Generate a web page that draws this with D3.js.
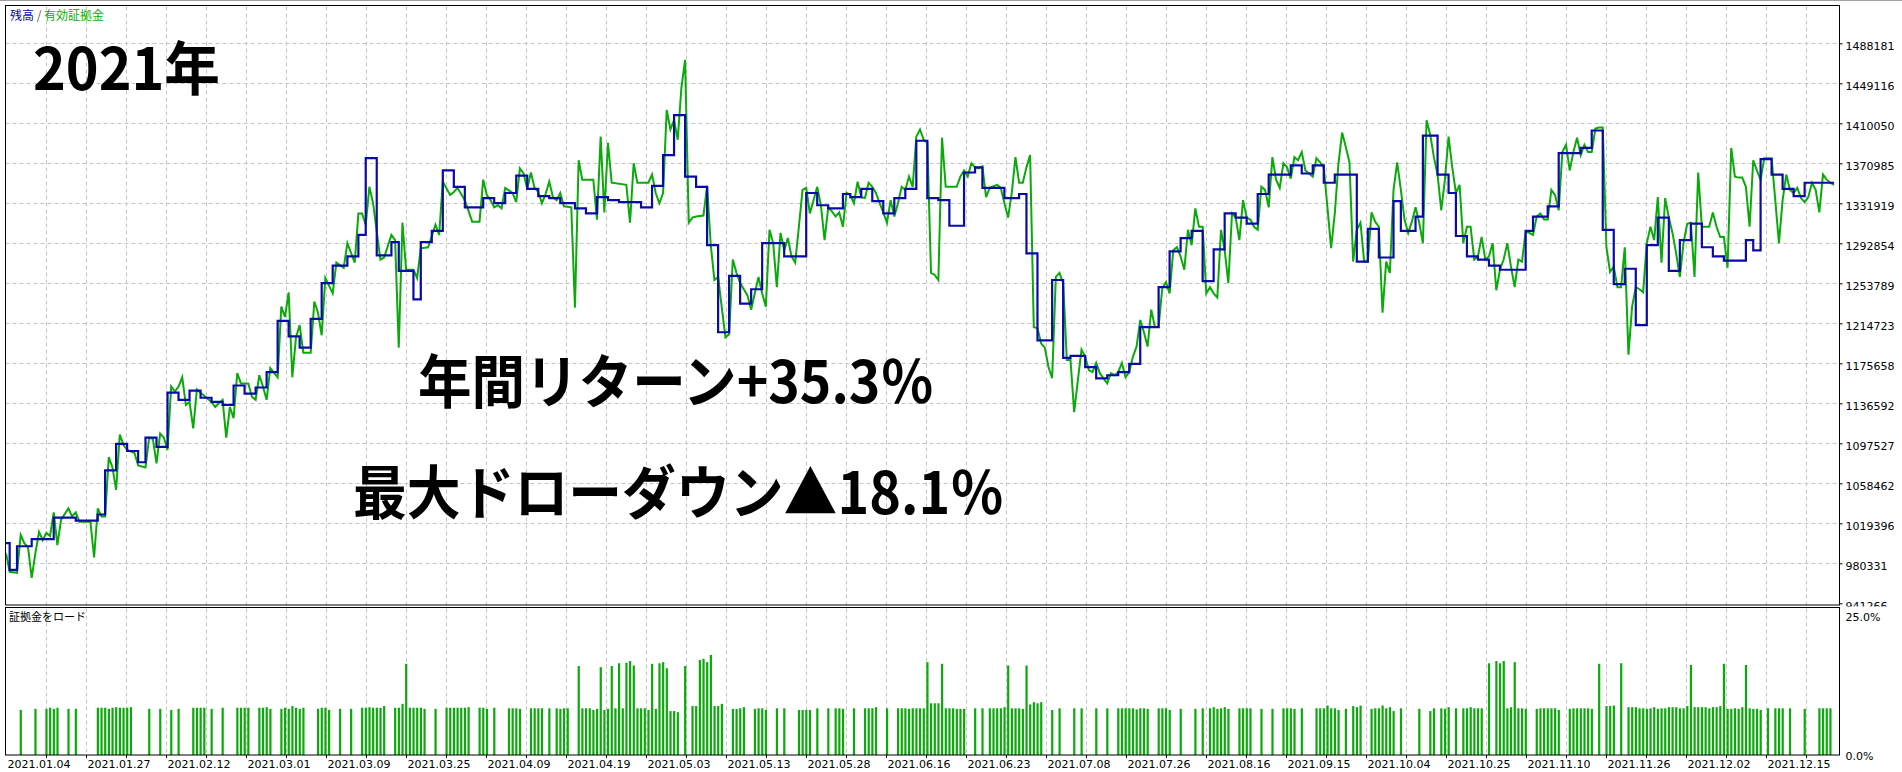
<!DOCTYPE html>
<html>
<head>
<meta charset="utf-8">
<script src="https://cdn.jsdelivr.net/npm/d3@7"></script>
<style>
  body { margin: 0; background: #fff; }
  text { font-family: "DejaVu Sans", sans-serif; }
</style>
</head>
<body>
<div id="tester-graph"></div>
<script>
(function() {
  var width = 1902, height = 772;

  // ---- data ----
  // y axis labels of the balance/equity pane (yen)
  var yTicks = [941266, 980331, 1019396, 1058462, 1097527, 1136592, 1175658, 1214723,
                1253789, 1292854, 1331919, 1370985, 1410050, 1449116, 1488181];

  var dateLabels = ["2021.01.04","2021.01.27","2021.02.12","2021.03.01","2021.03.09","2021.03.25",
    "2021.04.09","2021.04.19","2021.05.03","2021.05.13","2021.05.28","2021.06.16","2021.06.23",
    "2021.07.08","2021.07.26","2021.08.16","2021.09.15","2021.10.04","2021.10.25","2021.11.10",
    "2021.11.26","2021.12.02","2021.12.15"];

  var loadTicks = [0, 25];
  var dealCount = 498;

  // balance: [deal #, thousand yen] - value holds until next entry
  var balanceK = [[0,1000],[1,974],[3,997],[7,1004],[13,1025],[19,1022],[25,1028],[27,1071],[30,1097],[33,1090],
    [36,1079],[38,1103],[41,1094],[44,1147],[47,1140],[50,1149],[53,1142],[56,1138],[59,1135],[62,1154],
    [65,1146],[68,1152],[71,1167],[74,1217],[77,1202],[80,1191],[83,1219],[86,1254],[89,1271],[93,1280],
    [96,1301],[98,1376],[101,1281],[105,1294],[107,1266],[111,1238],[113,1294],[116,1305],[119,1364],[122,1348],
    [125,1328],[130,1337],[133,1332],[136,1342],[139,1359],[142,1346],[145,1339],[148,1337],[151,1332],[155,1327],
    [158,1322],[161,1338],[164,1335],[167,1333],[173,1328],[176,1349],[179,1379],[182,1418],[185,1358],[188,1348],
    [191,1291],[194,1206],[197,1261],[200,1234],[203,1248],[206,1293],[212,1280],[218,1342],[221,1330],[224,1327],
    [228,1341],[230,1338],[233,1346],[236,1334],[239,1322],[242,1337],[245,1346],[248,1393],[251,1337],[254,1335],
    [257,1310],[261,1362],[264,1367],[266,1347],[272,1337],[276,1341],[278,1283],[281,1198],[285,1257],[288,1181],
    [290,1183],[294,1172],[297,1161],[300,1164],[303,1167],[306,1175],[309,1211],[314,1250],[317,1285],[320,1298],
    [323,1305],[326,1256],[329,1287],[332,1322],[335,1318],[338,1312],[341,1341],[344,1360],[350,1369],[353,1361],
    [356,1369],[359,1352],[362,1360],[368,1275],[371,1307],[374,1279],[378,1334],[380,1305],[384,1319],[386,1398],
    [390,1360],[393,1342],[395,1300],[398,1280],[401,1277],[404,1271],[407,1267],[414,1305],[416,1319],[420,1329],
    [423,1381],[429,1386],[432,1403],[435,1306],[438,1253],[441,1268],[444,1213],[447,1291],[450,1318],[453,1266],
    [456,1296],[459,1312],[462,1289],[465,1280],[468,1276],[474,1296],[476,1286],[478,1375],[481,1360],[484,1346],
    [487,1339],[490,1352],[498,1352]];

  // equity: [deal #, thousand yen]
  var equityK = [[0,990],[1,972],[3,971],[4,1008],[5,1000],[6,996],[7,966],[8,990],[9,1011],[10,1003],[11,1010],
    [12,1007],[13,1030],[14,998],[15,1023],[17,1034],[18,1026],[19,1030],[20,1021],[23,1021],[24,986],[25,1034],
    [26,1026],[27,1026],[28,1084],[29,1074],[30,1052],[31,1106],[32,1096],[33,1091],[35,1088],[36,1076],[38,1074],
    [39,1103],[40,1102],[41,1078],[42,1107],[43,1103],[44,1091],[45,1153],[46,1148],[47,1153],[48,1162],[49,1135],
    [50,1138],[51,1112],[52,1150],[53,1147],[54,1144],[56,1138],[57,1133],[59,1140],[60,1103],[61,1133],[62,1122],
    [63,1166],[64,1156],[66,1156],[67,1143],[68,1140],[69,1164],[70,1153],[71,1140],[72,1171],[74,1162],[75,1231],
    [76,1221],[77,1245],[78,1162],[79,1201],[80,1213],[81,1186],[83,1186],[84,1236],[85,1225],[86,1203],[87,1259],
    [89,1244],[90,1274],[92,1269],[93,1293],[95,1274],[96,1322],[97,1322],[98,1311],[99,1348],[100,1332],[102,1277],
    [103,1279],[105,1301],[106,1296],[107,1191],[108,1313],[109,1267],[111,1267],[112,1259],[113,1288],[115,1289],
    [117,1311],[118,1301],[119,1353],[121,1340],[122,1343],[123,1347],[125,1335],[127,1314],[129,1314],[130,1355],
    [131,1340],[132,1335],[133,1328],[134,1330],[135,1327],[136,1347],[138,1342],[139,1333],[140,1366],[141,1361],
    [142,1346],[143,1362],[144,1347],[145,1343],[146,1332],[147,1341],[148,1353],[149,1338],[150,1335],[151,1342],
    [152,1329],[154,1328],[155,1230],[156,1374],[157,1355],[160,1355],[161,1316],[162,1397],[163,1323],[164,1391],
    [165,1352],[169,1350],[170,1313],[171,1371],[172,1352],[175,1352],[176,1360],[177,1342],[178,1332],[179,1342],
    [180,1423],[181,1404],[182,1413],[183,1394],[184,1445],[185,1472],[186,1313],[187,1318],[188,1319],[190,1320],
    [191,1349],[192,1291],[193,1257],[194,1260],[195,1230],[196,1201],[197,1204],[198,1277],[199,1264],[200,1254],
    [202,1242],[203,1228],[204,1244],[205,1260],[206,1244],[207,1231],[208,1306],[209,1293],[210,1250],[211,1303],
    [212,1286],[213,1298],[214,1280],[215,1274],[216,1309],[217,1345],[218,1347],[219,1322],[221,1348],[222,1330],
    [223,1296],[224,1328],[225,1324],[226,1319],[227,1323],[228,1309],[229,1342],[230,1340],[231,1332],[232,1353],
    [233,1338],[234,1337],[235,1352],[236,1348],[237,1342],[238,1332],[239,1323],[240,1313],[241,1335],[242,1319],
    [243,1332],[244,1348],[245,1345],[246,1358],[247,1348],[248,1397],[249,1404],[250,1394],[251,1391],[252,1264],
    [253,1262],[254,1257],[255,1396],[256,1348],[259,1348],[260,1358],[261,1364],[262,1358],[263,1371],[264,1367],
    [265,1366],[266,1368],[267,1338],[268,1347],[270,1350],[271,1347],[272,1332],[273,1318],[274,1342],[275,1377],
    [276,1352],[277,1352],[278,1367],[279,1379],[280,1211],[281,1210],[282,1195],[283,1191],[284,1172],[285,1161],
    [286,1260],[287,1264],[288,1254],[289,1179],[290,1179],[291,1128],[292,1159],[293,1189],[294,1182],[295,1169],
    [296,1167],[297,1176],[298,1166],[299,1161],[300,1156],[301,1166],[302,1164],[303,1167],[304,1176],[305,1162],
    [306,1167],[307,1182],[308,1192],[309,1218],[310,1206],[311,1192],[312,1228],[313,1211],[314,1211],[315,1249],
    [316,1255],[317,1244],[318,1286],[319,1289],[320,1280],[321,1267],[322,1306],[323,1291],[324,1327],[325,1309],
    [326,1309],[327,1244],[328,1250],[329,1244],[330,1240],[331,1306],[332,1286],[333,1254],[334,1322],[335,1318],
    [336,1296],[337,1335],[338,1318],[339,1316],[340,1309],[341,1306],[342,1348],[343,1345],[344,1328],[345,1377],
    [346,1355],[347,1347],[348,1371],[349,1367],[350,1356],[351,1377],[352,1374],[353,1382],[354,1364],[355,1361],
    [356,1358],[357,1376],[358,1372],[359,1367],[360,1328],[361,1288],[362,1322],[363,1371],[364,1401],[365,1387],
    [366,1372],[367,1275],[368,1306],[369,1313],[370,1275],[371,1275],[372,1323],[373,1314],[374,1309],[375,1225],
    [376,1275],[377,1264],[378,1345],[379,1372],[380,1345],[381,1316],[382,1303],[383,1314],[384,1328],[385,1313],
    [386,1293],[387,1413],[388,1399],[389,1377],[390,1360],[391,1325],[392,1355],[393,1397],[394,1367],[395,1342],
    [396,1350],[397,1293],[398,1309],[399,1309],[400,1277],[401,1280],[402,1299],[403,1277],[404,1280],[405,1293],
    [406,1247],[407,1267],[408,1277],[409,1293],[410,1270],[411,1250],[412,1277],[413,1275],[414,1304],[415,1303],
    [416,1301],[417,1319],[418,1322],[419,1316],[420,1316],[421,1345],[422,1340],[423,1325],[424,1382],[425,1389],
    [426,1364],[427,1382],[428,1396],[429,1379],[430,1389],[431,1382],[432,1382],[433,1405],[434,1406],[435,1406],
    [436,1289],[437,1265],[438,1270],[439,1250],[440,1250],[441,1289],[442,1184],[443,1231],[444,1250],[445,1248],
    [446,1245],[447,1293],[448,1309],[449,1296],[450,1338],[451,1274],[452,1337],[453,1318],[454,1303],[455,1283],
    [456,1260],[457,1293],[458,1312],[459,1313],[460,1260],[461,1362],[462,1309],[464,1309],[465,1323],[466,1309],
    [467,1299],[468,1299],[469,1269],[470,1386],[471,1358],[472,1357],[473,1357],[474,1348],[475,1309],[476,1374],
    [477,1364],[478,1355],[479,1376],[481,1376],[482,1335],[483,1293],[484,1335],[485,1360],[486,1345],[487,1342],
    [488,1347],[489,1337],[490,1333],[491,1338],[492,1352],[493,1345],[494,1323],[495,1360],[496,1355],[497,1352],
    [498,1350]];

  // deposit load: [deal #, percent]
  var loadBars = [[4,8.1],[8,8.3],[11,8.3],[12,8.5],[13,8.3],[14,8.5],[17,8.3],[19,8.3],[25,8.5],[26,8.5],[27,8.5],
    [28,8.3],[29,8.5],[30,8.6],[31,8.5],[32,8.5],[33,8.5],[34,8.6],[39,8.3],[42,8.3],[45,8.1],[47,8.3],[51,8.5],
    [52,8.5],[53,8.5],[54,8.5],[56,8.3],[59,8.5],[63,8.5],[64,8.5],[65,8.5],[66,8.5],[69,8.5],[70,8.5],[71,8.6],
    [72,8.3],[75,8.3],[76,8.5],[77,8.3],[78,8.8],[79,8.5],[80,8.3],[81,8.5],[85,8.3],[86,8.5],[87,8.5],[88,8.1],
    [91,8.3],[94,8.3],[97,8.5],[98,8.5],[99,8.6],[100,8.5],[101,8.5],[102,8.5],[103,8.8],[106,8.5],[107,8.5],
    [108,9.2],[109,16.4],[110,8.5],[111,8.5],[112,8.5],[113,8.5],[114,8.3],[117,8.3],[120,8.5],[121,8.5],[122,8.5],
    [123,8.5],[124,8.5],[125,8.5],[126,8.6],[129,8.5],[130,8.5],[131,8.3],[133,8.5],
    [137,8.4],[138,8.4],[139,8.4],[140,8.3],[143,8.4],[144,8.4],[145,8.4],[146,8.4],[148,8.4],[150,8.4],[151,8.3],
    [152,8.4],[153,8.4],[156,16.0],[157,8.4],[158,8.4],[159,8.4],[160,8.1],[161,8.3],[162,15.8],[163,8.1],[164,8.3],
    [165,16.0],[166,8.4],[167,16.5],[168,8.4],[169,16.6],[170,16.9],[171,16.1],[172,8.4],[173,8.4],[174,8.4],
    [175,8.1],[176,16.4],[177,8.3],[178,16.5],[179,16.7],[180,15.6],[181,7.9],[182,7.9],[183,7.7],[185,16.0],
    [187,8.8],[188,8.8],[189,17.1],[190,17.3],[191,16.7],[192,18.0],[193,8.8],[194,8.8],[195,9.2],[198,8.3],
    [199,8.3],[200,8.4],[201,8.6],[204,8.3],[205,8.4],[206,8.4],[207,8.1],[210,8.4],[212,8.4],[216,8.1],[217,8.1],
    [218,8.1],[219,8.1],[221,8.4],[224,8.4],[226,8.4],[227,8.4],[228,8.3],[231,8.4],[234,8.4],[235,8.4],[236,8.4],
    [237,8.6],[240,8.4],[243,8.4],[244,8.4],[245,8.4],[246,8.3],[247,8.4],[248,8.4],[249,8.4],[250,8.4],[251,16.7],
    [252,9.3],[253,9.3],[254,9.3],[255,16.4],[256,8.4],[257,8.4],[258,8.4],[259,8.3],[260,8.3],[261,8.3],[264,8.4],
    [266,8.4],[268,8.4],[269,8.4],[270,8.4],[271,8.4],[272,8.6],[273,16.1],[274,8.4],[275,8.4],[276,8.4],[277,8.3],
    [278,16.1],[279,9.1],[280,9.5],[281,9.3],[282,9.5],[285,8.1],[287,8.4],[291,8.4],[293,8.4],[297,8.4],[300,8.4],
    [303,8.4],[304,8.4],[305,8.4],[306,8.4],[307,8.4],[308,8.2],[309,8.4],[310,8.4],[311,8.3],[314,8.4],[315,8.4],
    [316,8.4],[317,8.1],[320,8.3],[324,8.3],
    [326,8.4],[328,8.4],[329,8.6],[330,8.3],[331,8.4],[332,8.6],[333,8.3],[336,8.4],[337,8.4],[338,8.4],[339,8.4],
    [342,8.3],[345,8.3],[348,8.4],[349,8.4],[350,8.4],[351,8.3],[353,8.4],[357,8.4],[358,8.4],[359,8.4],[360,8.9],
    [361,8.4],[362,8.4],[363,8.1],[365,8.3],[367,8.8],[368,8.6],[369,8.9],[372,8.3],[373,8.4],[374,8.4],[375,8.9],
    [376,8.4],[377,8.6],[378,7.9],[380,8.4],[385,8.3],[388,7.9],[389,8.4],[391,8.4],[392,8.3],[393,8.6],[395,8.4],
    [397,8.4],[398,8.4],[399,8.6],[400,8.4],[401,8.4],[402,8.4],[404,16.5],[406,16.9],[407,16.5],[408,16.9],
    [409,8.4],[410,8.6],[411,16.7],[412,8.4],[413,8.4],[414,8.3],[417,8.3],[418,8.4],[419,8.4],[420,8.4],[421,8.4],
    [422,8.4],[423,8.1],[426,8.3],[427,8.4],[428,8.4],[429,8.4],[430,8.4],[431,8.4],[432,8.3],[434,16.4],[436,8.8],
    [437,8.8],[438,8.9],[440,16.5],[442,8.6],[443,8.6],[444,8.6],[445,8.4],[446,8.4],[447,8.3],[448,8.4],[449,8.6],
    [450,8.3],[451,8.4],[452,8.4],[453,8.6],[454,8.6],[455,8.6],[456,8.4],[457,8.4],[458,8.8],[459,16.2],[460,8.6],
    [461,8.6],[462,8.6],[463,8.6],[464,8.4],[465,8.6],[466,8.6],[467,8.8],[468,16.4],[469,8.3],[470,8.3],[471,8.4],
    [472,8.3],[473,8.6],[474,16.2],[475,8.4],[476,8.3],[477,8.3],[478,8.1],[480,8.4],[482,8.4],[483,8.4],[484,8.4],
    [486,8.4],[490,8.3],[494,8.4],[495,8.4],[496,8.4],[497,8.4]];

  var balance = balanceK.map(function(d) { return [d[0], d[1] * 1000] });
  var equity = equityK.map(function(d) { return [d[0], d[1] * 1000] });

  // ---- layout ----
  var pane = { left: 5.5, right: 1839.5, top: 5.5, bottom: 605 },
      loadPane = { top: 607.5, bottom: 755 };

  var blue = "#0a0aa8", green = "#0aaa0a";

  var svg = d3.select("#tester-graph")
    .append("svg")
    .attr("width", width)
    .attr("height", height)
    .style("display", "block");

  svg.append("rect").attr("width", width).attr("height", height).attr("fill", "#fff");
  svg.append("line").attr("x1", 0).attr("x2", width).attr("y1", 0.5).attr("y2", 0.5)
    .attr("stroke", "#a0a0a0");

  var xScale = d3.scaleLinear().domain([0, dealCount]).range([6, 1834]);
  var yScale = d3.scaleLinear().domain([yTicks[0], yTicks[yTicks.length - 1]]).range([603.3, 43.3]);
  var loadScale = d3.scaleLinear().domain(loadTicks).range([755, 616]);
  var dateScale = d3.scalePoint().domain(dateLabels).range([38.5, 1798.5]);
  // vertical grid every 40px
  var gridScale = d3.scaleLinear().domain([0, 45]).range([6, 1806]);

  var defs = svg.append("defs");
  defs.append("clipPath").attr("id", "clip-main").append("rect")
    .attr("x", pane.left).attr("y", pane.top)
    .attr("width", pane.right - pane.left).attr("height", pane.bottom - pane.top);
  defs.append("clipPath").attr("id", "clip-axis").append("rect")
    .attr("x", pane.right).attr("y", 0).attr("width", 70).attr("height", 606.5);

  // grid
  var grid = svg.append("g").attr("class", "grid")
    .attr("stroke", "#c4c4c4").attr("stroke-dasharray", "4,3").attr("fill", "none");
  grid.selectAll("line.v")
    .data(d3.range(1, 46))
    .enter().append("line")
    .attr("class", "v")
    .attr("x1", function(d) { return Math.round(gridScale(d)) + 0.5 })
    .attr("x2", function(d) { return Math.round(gridScale(d)) + 0.5 })
    .attr("y1", pane.top + 1).attr("y2", loadPane.bottom);
  grid.selectAll("line.h")
    .data(yTicks.slice(1))
    .enter().append("line")
    .attr("class", "h")
    .attr("x1", pane.left).attr("x2", pane.right)
    .attr("y1", function(d) { return Math.round(yScale(d)) + 0.5 })
    .attr("y2", function(d) { return Math.round(yScale(d)) + 0.5 });

  // white gap between the panes
  svg.append("rect").attr("x", 0).attr("y", 605.5).attr("width", pane.right).attr("height", 2)
    .attr("fill", "#fff");

  // equity + balance
  var plot = svg.append("g").attr("clip-path", "url(#clip-main)");
  var line = d3.line()
    .x(function(d) { return xScale(d[0]) })
    .y(function(d) { return yScale(d[1]) });

  plot.append("path")
    .datum(equity)
    .attr("d", line)
    .attr("fill", "none")
    .attr("stroke", green)
    .attr("stroke-width", 2)
    .attr("stroke-linejoin", "miter");

  plot.append("path")
    .datum(balance)
    .attr("d", line.curve(d3.curveStepAfter))
    .attr("fill", "none")
    .attr("stroke", blue)
    .attr("stroke-width", 2.2);

  // deposit load bars
  svg.append("g").selectAll("rect")
    .data(loadBars)
    .enter().append("rect")
    .attr("x", function(d) { return xScale(d[0]) - 1 })
    .attr("width", 2.2)
    .attr("y", function(d) { return loadScale(d[1]) })
    .attr("height", function(d) { return loadScale(0) - loadScale(d[1]) })
    .attr("fill", green);

  // frames
  svg.append("rect")
    .attr("x", pane.left).attr("y", pane.top)
    .attr("width", pane.right - pane.left).attr("height", pane.bottom - pane.top)
    .attr("fill", "none").attr("stroke", "#000");
  svg.append("rect")
    .attr("x", pane.left).attr("y", loadPane.top)
    .attr("width", pane.right - pane.left).attr("height", loadPane.bottom - loadPane.top)
    .attr("fill", "none").attr("stroke", "#000");

  // value axis (clipped so the lowest label is cut by the load pane, as in the terminal)
  var yAxis = d3.axisRight(yScale).tickValues(yTicks).tickSize(3).tickPadding(3)
    .tickFormat(d3.format("d"));
  var yAxisG = svg.append("g")
    .attr("clip-path", "url(#clip-axis)")
    .append("g")
    .attr("class", "axis y-axis")
    .attr("transform", "translate(" + pane.right + ",0)")
    .style("font-family", "DejaVu Sans")
    .style("font-size", "11px")
    .call(yAxis);
  yAxisG.select(".domain").remove();
  yAxisG.selectAll("text").attr("dy", "0.55em").attr("fill", "#000");
  yAxisG.selectAll("line").attr("stroke", "#000");

  // load axis
  var loadAxis = d3.axisRight(loadScale).tickValues(loadTicks).tickSize(0).tickPadding(6)
    .tickFormat(function(d) { return d.toFixed(1) + "%" });
  var loadAxisG = svg.append("g")
    .attr("class", "axis load-axis")
    .attr("transform", "translate(" + pane.right + ",0)")
    .style("font-family", "DejaVu Sans")
    .style("font-size", "11px")
    .call(loadAxis);
  loadAxisG.select(".domain").remove();
  loadAxisG.selectAll("text").attr("dy", "0.42em").attr("fill", "#000");

  // date axis
  var xAxis = d3.axisBottom(dateScale).tickSize(0).tickPadding(0);
  var xAxisG = svg.append("g")
    .attr("class", "axis x-axis")
    .attr("transform", "translate(0," + loadPane.bottom + ")")
    .style("font-family", "DejaVu Sans")
    .style("font-size", "11px")
    .call(xAxis);
  xAxisG.select(".domain").remove();
  xAxisG.selectAll("text").attr("dy", null).attr("y", 13).attr("fill", "#000");
  // small ticks under the date axis
  svg.append("g").selectAll("line")
    .data(d3.range(1, 46))
    .enter().append("line")
    .attr("x1", function(d) { return Math.round(gridScale(d)) + 0.5 })
    .attr("x2", function(d) { return Math.round(gridScale(d)) + 0.5 })
    .attr("y1", loadPane.bottom).attr("y2", loadPane.bottom + 3)
    .attr("stroke", "#000");

  // pane captions
  var legend = svg.append("text")
    .attr("x", 10).attr("y", 20)
    .style("font-family", "'Noto Sans CJK JP'")
    .style("font-size", "12px");
  legend.append("tspan").attr("fill", blue).text("残高");
  legend.append("tspan").attr("fill", "#555").text(" / ");
  legend.append("tspan").attr("fill", green).text("有効証拠金");

  svg.append("text")
    .attr("x", 9).attr("y", 621)
    .style("font-family", "'Noto Sans CJK JP'")
    .style("font-size", "11px")
    .attr("fill", "#000")
    .text("証拠金をロード");

  // annotations pasted on the screenshot
  var notes = [
    { text: "2021年", x: 33, y: 90, w: 187 },
    { text: "年間リターン+35.3％", x: 418, y: 403, w: 516 },
    { text: "最大ドローダウン▲18.1％", x: 353, y: 514, w: 651 }
  ];
  svg.append("g").selectAll("text")
    .data(notes)
    .enter().append("text")
    .attr("x", function(d) { return d.x })
    .attr("y", function(d) { return d.y })
    .attr("textLength", function(d) { return d.w })
    .attr("lengthAdjust", "spacingAndGlyphs")
    .style("font-family", "'Noto Sans CJK JP'")
    .style("font-weight", 700)
    .style("font-size", "58px")
    .attr("fill", "#000")
    .text(function(d) { return d.text });

})();
</script>
</body>
</html>
